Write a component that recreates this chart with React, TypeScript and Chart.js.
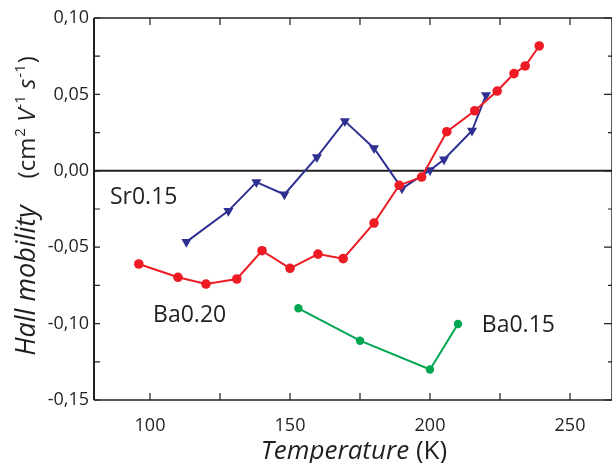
import React, { useEffect, useRef } from "react";
import { Chart, registerables } from "chart.js";

Chart.register(...registerables);

// ---- data ----
const ba020T = [96, 110, 120, 131, 140, 150, 160, 169, 180, 189, 197, 206, 216, 224, 230, 234, 239];
const ba020V = [-0.061, -0.0697, -0.0741, -0.0708, -0.0523, -0.0638, -0.0545, -0.0575, -0.0342, -0.0095, -0.0041, 0.0256, 0.0393, 0.0522, 0.0636, 0.0686, 0.0817];
const sr015T = [113, 128, 138, 148, 159.6, 169.6, 180, 190, 200, 205, 215, 220];
const sr015V = [-0.0465, -0.0262, -0.0074, -0.0155, 0.0089, 0.0325, 0.0148, -0.0116, 0.0004, 0.0074, 0.0262, 0.0495];
const ba015T = [153, 175, 200, 210];
const ba015V = [-0.09, -0.1112, -0.13, -0.1003];

const xTickLabels = [100, 150, 200, 250];
const yTickLabels = [-0.15, -0.1, -0.05, 0, 0.05, 0.1];

const seriesNames = ["Sr0.15", "Ba0.20", "Ba0.15"];
const labelT = [85.7, 101.1, 218.5];
const labelV = [-0.0217, -0.0988, -0.1057];

const RED = "#ed1c24";
const BLUE = "#2e3192";
const GREEN = "#00a651";
const INK = "#231f20";
const FONT = "'Open Sans'";

function pts(xs: number[], ys: number[]) {
  return xs.map((x, i) => ({ x, y: ys[i] }));
}

const decor = {
  id: "decor",
  beforeDatasetsDraw(chart: any) {
    const { ctx, chartArea: a, scales } = chart;
    const y0 = scales.y.getPixelForValue(0);
    ctx.save();
    ctx.strokeStyle = INK;
    ctx.lineWidth = 2;
    ctx.beginPath();
    ctx.moveTo(a.left, y0);
    ctx.lineTo(a.right, y0);
    ctx.stroke();
    ctx.restore();
  },
  afterDraw(chart: any) {
    const { ctx, chartArea: a, scales } = chart;
    const xs = scales.x;
    const ys = scales.y;
    ctx.save();
    ctx.strokeStyle = INK;
    // frame
    ctx.lineWidth = 2;
    ctx.beginPath();
    ctx.moveTo(a.left, a.top);
    ctx.lineTo(a.left, a.bottom);
    ctx.stroke();
    ctx.lineWidth = 1.5;
    ctx.beginPath();
    ctx.moveTo(a.left, a.top);
    ctx.lineTo(a.right, a.top);
    ctx.moveTo(a.left, a.bottom);
    ctx.lineTo(a.right, a.bottom);
    ctx.moveTo(a.right, a.top);
    ctx.lineTo(a.right, a.bottom);
    ctx.stroke();
    // ticks
    ctx.lineWidth = 1.2;
    ctx.beginPath();
    for (let t = 100; t <= 260; t += 25) {
      const px = xs.getPixelForValue(t);
      ctx.moveTo(px, a.top);
      ctx.lineTo(px, a.top + 7);
      ctx.moveTo(px, a.bottom);
      ctx.lineTo(px, a.bottom - 7);
    }
    for (let k = -6; k <= 4; k++) {
      const v = k * 0.025;
      const py = ys.getPixelForValue(v);
      ctx.moveTo(a.left, py);
      ctx.lineTo(a.left + 6, py);
      const major = k % 2 === 0;
      ctx.moveTo(a.right, py);
      ctx.lineTo(a.right - (major ? 8 : 4), py);
    }
    ctx.stroke();

    // series labels
    ctx.fillStyle = INK;
    ctx.font = `23px ${FONT}`;
    ctx.textBaseline = "alphabetic";
    ctx.textAlign = "left";
    seriesNames.forEach((n, i) => {
      ctx.fillText(n, xs.getPixelForValue(labelT[i]), ys.getPixelForValue(labelV[i]));
    });

    // x title
    const xsize = 26;
    const xParts = [
      { t: "Temperature", f: `italic ${xsize}px ${FONT}` },
      { t: " (K)", f: `${xsize}px ${FONT}` },
    ];
    let w = 0;
    xParts.forEach((p) => {
      ctx.font = p.f;
      w += ctx.measureText(p.t).width;
    });
    let cx = 354 - w / 2;
    xParts.forEach((p) => {
      ctx.font = p.f;
      ctx.fillText(p.t, cx, 459);
      cx += ctx.measureText(p.t).width;
    });

    // y title
    const it = `italic 27px ${FONT}`;
    const nm = `24px ${FONT}`;
    const uit = `italic 24px ${FONT}`;
    const sup = `15px ${FONT}`;
    const yParts: { t: string; f: string; dy?: number; gap?: number }[] = [
      { t: "Hall mobility", f: it },
      { t: "", f: nm, gap: 27 },
      { t: "(cm", f: nm },
      { t: "2", f: sup, dy: -10, gap: 1 },
      { t: " ", f: nm },
      { t: "V", f: uit },
      { t: "-1", f: sup, dy: -10 },
      { t: " ", f: nm },
      { t: "s", f: uit },
      { t: "-1", f: sup, dy: -10, gap: 1 },
      { t: ")", f: nm, gap: 1 },
    ];
    let tw = 0;
    yParts.forEach((p) => {
      ctx.font = p.f;
      tw += ctx.measureText(p.t).width + (p.gap || 0);
    });
    ctx.translate(35, 206);
    ctx.rotate(-Math.PI / 2);
    let px = -tw / 2;
    yParts.forEach((p) => {
      ctx.font = p.f;
      px += p.gap || 0;
      ctx.fillText(p.t, px, p.dy || 0);
      px += ctx.measureText(p.t).width;
    });
    ctx.restore();
  },
};

export default function App() {
  const ref = useRef<HTMLCanvasElement>(null);
  useEffect(() => {
    if (!ref.current) return;
    const chart = new Chart(ref.current, {
      type: "line",
      data: {
        datasets: [
          {
            label: "Ba0.20",
            data: pts(ba020T, ba020V),
            borderColor: RED,
            backgroundColor: RED,
            borderWidth: 2,
            pointRadius: 4.8,
            pointBorderWidth: 0,
            pointStyle: "circle",
          },
          {
            label: "Sr0.15",
            data: pts(sr015T, sr015V),
            borderColor: BLUE,
            backgroundColor: BLUE,
            borderWidth: 2,
            pointRadius: 5.8,
            pointBorderWidth: 0,
            pointStyle: "triangle",
            pointRotation: 180,
          },
          {
            label: "Ba0.15",
            data: pts(ba015T, ba015V),
            borderColor: GREEN,
            backgroundColor: GREEN,
            borderWidth: 2,
            pointRadius: 4.2,
            pointBorderWidth: 0,
            pointStyle: "circle",
          },
        ],
      },
      options: {
        responsive: false,
        animation: false,
        layout: { autoPadding: false, padding: { top: 18, right: 0, left: 0, bottom: 0 } },
        plugins: { legend: { display: false }, tooltip: { enabled: false } },
        scales: {
          x: {
            type: "linear",
            min: 80,
            max: 265,
            grid: { display: false, drawTicks: false },
            border: { display: false },
            afterBuildTicks: (s: any) => {
              s.ticks = xTickLabels.map((v) => ({ value: v }));
            },
            afterFit: (s: any) => {
              s.height = 63;
              s.paddingLeft = 0;
              s.paddingRight = 0;
            },
            ticks: {
              color: INK,
              padding: 15,
              font: { family: "Open Sans", size: 18 },
              callback: (v: any) => String(v),
            },
          },
          y: {
            type: "linear",
            min: -0.15,
            max: 0.1,
            grid: { display: false, drawTicks: false },
            border: { display: false },
            afterBuildTicks: (s: any) => {
              s.ticks = yTickLabels.map((v) => ({ value: v }));
            },
            afterFit: (s: any) => {
              s.width = 94;
              s.paddingTop = 0;
              s.paddingBottom = 0;
            },
            ticks: {
              color: INK,
              padding: 5,
              font: { family: "Open Sans", size: 18 },
              callback: (v: any) => Number(v).toFixed(2).replace(".", ","),
            },
          },
        },
      },
      plugins: [decor],
    });
    return () => chart.destroy();
  }, []);
  return (
    <div style={{ position: "fixed", left: 0, top: 0, width: 612, height: 463, background: "#fff" }}>
      <canvas ref={ref} width={612} height={463} />
    </div>
  );
}
